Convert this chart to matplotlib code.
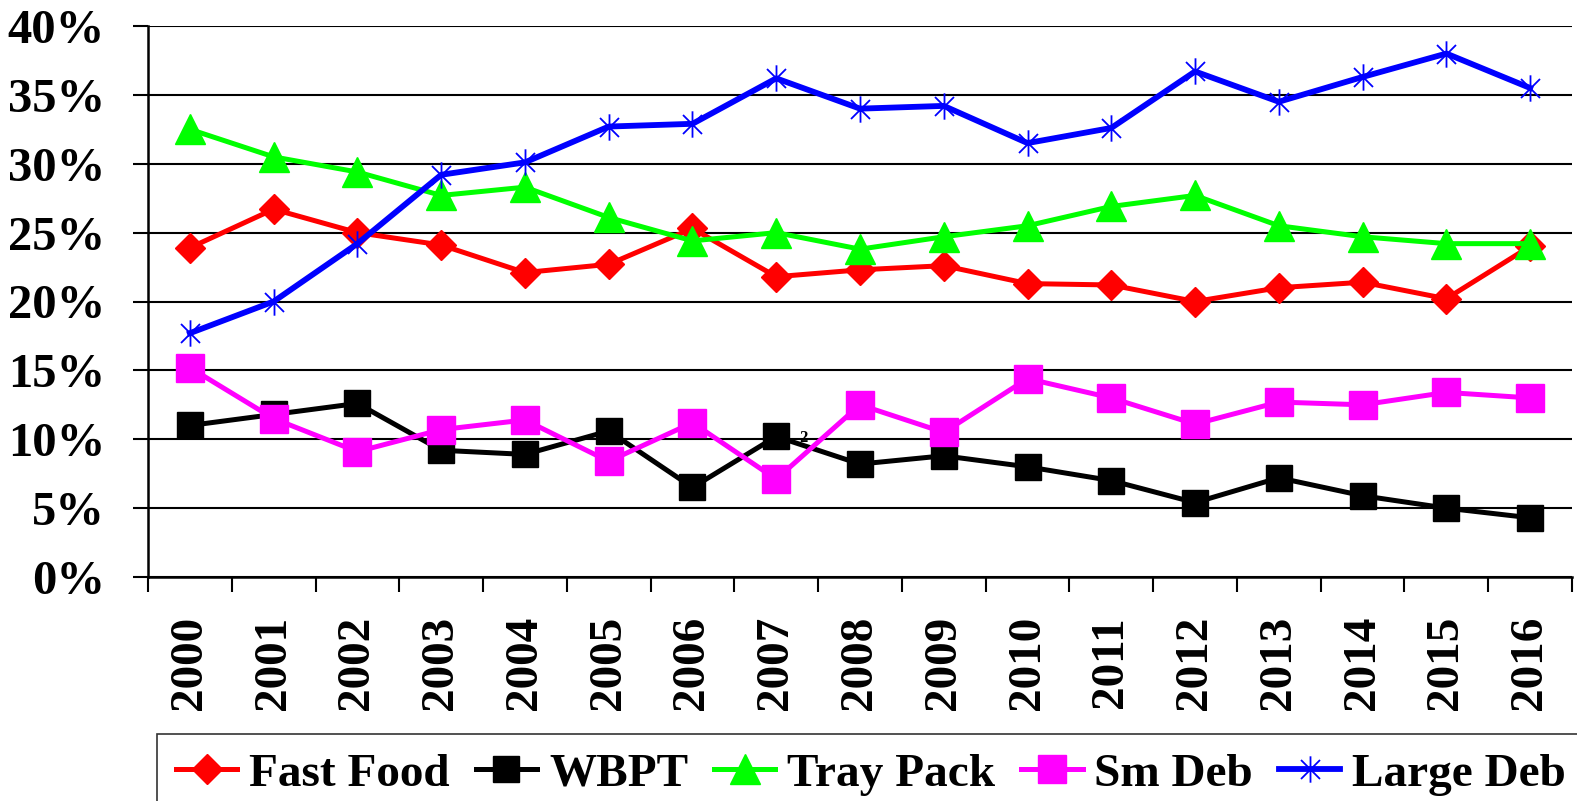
import matplotlib
matplotlib.use("Agg")
import matplotlib.pyplot as plt
from matplotlib.path import Path
import numpy as np

years = [str(y) for y in range(2000, 2017)]
fast_food = [23.9, 26.7, 25.0, 24.1, 22.1, 22.7, 25.3, 21.8, 22.3, 22.6, 21.3, 21.2, 20.0, 21.0, 21.4, 20.2, 24.0]
wbpt = [11.0, 11.8, 12.6, 9.2, 8.9, 10.6, 6.5, 10.2, 8.2, 8.8, 8.0, 7.0, 5.4, 7.2, 5.9, 5.0, 4.3]
tray_pack = [32.5, 30.5, 29.4, 27.7, 28.3, 26.1, 24.4, 25.0, 23.8, 24.7, 25.5, 26.9, 27.7, 25.5, 24.7, 24.2, 24.2]
sm_deb = [15.2, 11.5, 9.1, 10.7, 11.4, 8.4, 11.2, 7.1, 12.5, 10.5, 14.4, 13.0, 11.1, 12.7, 12.5, 13.4, 13.0]
large_deb = [17.7, 20.0, 24.2, 29.2, 30.1, 32.7, 32.9, 36.2, 34.0, 34.2, 31.5, 32.6, 36.7, 34.5, 36.3, 38.0, 35.5]
y_ticks = [0, 5, 10, 15, 20, 25, 30, 35, 40]

plt.rcParams['font.family'] = ['Liberation Serif', 'DejaVu Serif']
plt.rcParams['font.weight'] = 'bold'

fig = plt.figure(figsize=(15.77, 8.01), dpi=100)
ax = fig.add_axes([148/1577, 1-577/801, (1572-148)/1577, (577-26)/801])

x = np.arange(len(years))

ast = Path([(0, -1), (0, 1), (-0.72, -0.72), (0.72, 0.72), (-0.72, 0.72), (0.72, -0.72)],
           [Path.MOVETO, Path.LINETO, Path.MOVETO, Path.LINETO, Path.MOVETO, Path.LINETO])

ax.plot(x, fast_food, color='#ff0000', lw=3.6, marker='D', ms=15, mec='#ff0000', mfc='#ff0000', label='Fast Food', zorder=3)
ax.plot(x, wbpt, color='black', lw=3.6, marker='s', ms=19, mec='black', mfc='black', label='WBPT', zorder=3)
ax.plot(x, tray_pack, color='#00ff00', lw=3.6, marker='^', ms=21, mec='#00ff00', mfc='#00ff00', label='Tray Pack', zorder=3)
ax.plot(x, sm_deb, color='#ff00ff', lw=3.6, marker='s', ms=20, mec='#ff00ff', mfc='#ff00ff', label='Sm Deb', zorder=4)
ax.plot(x, large_deb, color='#0000ff', lw=4.2, marker=ast, ms=19, mew=1.3, mec='#0000ff', mfc='none', label='Large Deb', zorder=5)

ax.text(7.32, 10.1, '2', fontsize=12, fontweight='bold', ha='center', va='center', zorder=6)

ax.set_xlim(-0.5, len(years) - 0.5)
ax.set_ylim(0, 40)
ax.set_yticks(y_ticks)
ax.set_yticklabels([f'{v}%' for v in y_ticks], fontsize=35, fontweight='bold')
ax.yaxis.grid(True, color='black', lw=1.5, zorder=0)
ax.set_axisbelow(True)

ax.set_xticks(x)
ax.set_xticklabels(years, rotation=90, fontsize=34, fontweight='bold')
ax.set_xticks(np.arange(-0.5, len(years), 1), minor=True)
ax.tick_params(axis='x', which='major', length=0, pad=28)
ax.tick_params(axis='x', which='minor', length=11, width=1.5, direction='out')
ax.tick_params(axis='y', length=11, width=1.5, pad=20, direction='out')

for s in ['top', 'right']:
    ax.spines[s].set_visible(False)
ax.spines['left'].set_linewidth(1.8)
ax.spines['bottom'].set_linewidth(1.8)

leg = fig.legend(loc='upper left', bbox_to_anchor=(157/1577, 1-734/801), ncol=5,
                 frameon=True, fancybox=False, edgecolor='black',
                 handlelength=1.3, handletextpad=0.25, columnspacing=0.55,
                 borderpad=0.4, borderaxespad=0, prop={'weight': 'bold', 'size': 34})
leg.get_frame().set_linewidth(1.2)

fig.savefig('out.png', dpi=100)
